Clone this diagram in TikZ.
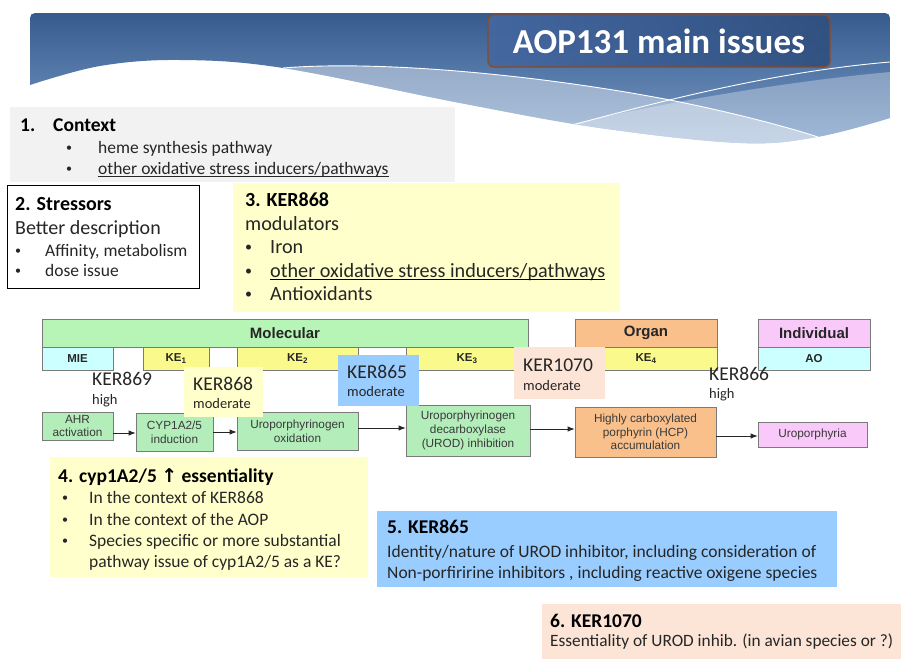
\documentclass[tikz,border=0pt]{standalone}
\usepackage{fontspec}
\setmainfont{Carlito}
\newfontfamily\arialf{Liberation Sans}
\newfontfamily\symf{DejaVu Sans}
\usetikzlibrary{arrows.meta}

\newcommand{\fsz}[2]{\fontsize{#1}{#2}\selectfont}
% small list bullet, lifted to sit at mid x-height of the surrounding text
\newcommand{\bul}[2]{\raisebox{#2}{\fsz{#1}{#1}\textbullet}}

\definecolor{bannertop}{HTML}{365B8D}
\definecolor{bannerbot}{HTML}{7A9CC8}
\definecolor{titlebrd}{HTML}{8C4A25}
\definecolor{titleL}{HTML}{4467A0}
\definecolor{titleR}{HTML}{30507F}
\definecolor{ctxgray}{HTML}{F2F2F2}
\definecolor{paleyellow}{HTML}{FFFFCC}
\definecolor{paleblue}{HTML}{99CCFF}
\definecolor{peach}{HTML}{FCE4D6}
\definecolor{molgreen}{HTML}{B6F5B6}
\definecolor{boxgreen}{HTML}{B3EDBA}
\definecolor{organ}{HTML}{F9C08C}
\definecolor{indiv}{HTML}{F9C9F9}
\definecolor{cyanbox}{HTML}{CCFFFF}
\definecolor{keyellow}{HTML}{FAFA8C}
\definecolor{dgray}{HTML}{7A7A7A}
\definecolor{dtext}{HTML}{3A3A3A}
\definecolor{bodytext}{HTML}{262626}

\begin{document}
\begin{tikzpicture}[x=1pt,y=-1pt,
  tx/.style={anchor=base west, inner sep=0pt, text=bodytext},
  panel/.style={anchor=north west, inner sep=0pt, draw=none},
  dbox/.style={draw=dgray, line width=0.8pt, inner sep=0pt, align=center,
    text=dtext, font=\arialf\fsz{11.8}{13.6}},
  dhead/.style={dbox, font=\arialf\bfseries\fsz{15}{16}, text=black!85},
  dsub/.style={dbox, font=\arialf\bfseries\fsz{11.5}{13}, text=black!85},
  kerbox/.style={inner sep=0pt, draw=none},
  arr/.style={-{Latex[length=7pt,width=5.5pt]}, line width=0.8pt, draw=black!85},
  hd/.style={tx, text=black, font=\bfseries\fsz{19.5}{23}},
  uline/.style={draw=bodytext, line width=0.9pt},
]
\useasboundingbox (0,0) rectangle (901,659);

% ---------- header banner ----------
\begin{scope}
  \clip (30,85) -- (30,24) .. controls (30,13) .. (41,13) -- (879,13)
    .. controls (890,13) .. (890,24) -- (890,118)
    -- plot[smooth,tension=0.6] coordinates {(890,118) (817,137) (740,143)
       (600,128) (460,103) (283,68) (180,60) (100,66) (30,85)} -- cycle;
  \shade[top color=bannertop, bottom color=bannerbot] (30,13) rectangle (890,145);
  \fill[white, opacity=.4] (283,68) .. controls (380,60) and (540,75) .. (670,100)
    .. controls (740,114) and (790,128) .. (818,137) -- (818,170) -- (250,170) -- (250,68) -- cycle;
  \fill[white, opacity=.3] (555,128) .. controls (650,105) and (780,82) .. (890,72)
    -- (890,170) -- (555,170) -- cycle;
  \draw[white, line width=0.9pt] (283,68) .. controls (380,60) and (540,75) .. (670,100)
    .. controls (740,114) and (790,128) .. (818,137);
  \draw[white, line width=0.9pt] (565,127) .. controls (650,104) and (770,72) .. (890,62);
\end{scope}

% title plate
\node[text=black, opacity=.45, font=\bfseries\fsz{35}{40}] at (660.5,42.5) {AOP131 main issues};
\node[draw=titlebrd, line width=1.4pt, rounded corners=6pt, left color=titleL, right color=titleR,
  minimum width=342pt, minimum height=52pt, inner sep=0pt, fill opacity=0.92]
  (title) at (659,41) {};
\node[text=white, font=\bfseries\fsz{35}{40}] (titletext) at (title.center) {AOP131 main issues};

% ---------- 1. Context ----------
\node[panel, fill=ctxgray, minimum width=445pt, minimum height=75pt] (ctx) at (10,107) {};
\node[hd] at (20,131) {1.};
\node[hd] at (53,131) {Context};
\node[tx, font=\fsz{17.5}{21}] at (66,153) {\bul{12}{1.3pt}};
\node[tx, font=\fsz{17.5}{21}] at (98,153) {heme synthesis pathway};
\node[tx, font=\fsz{17.5}{21}] at (66,174) {\bul{12}{1.3pt}};
\node[tx, font=\fsz{17.5}{21}] (ctxu) at (98,174) {other oxidative stress inducers/pathways};
\draw[uline] ([yshift=-2.5pt]ctxu.base west) -- ([yshift=-2.5pt]ctxu.base east);

% ---------- 2. Stressors ----------
\node[panel, fill=white, draw=black, line width=1pt, minimum width=192pt, minimum height=103pt] (str) at (7,185) {};
\node[hd, font=\bfseries\fsz{20}{24}] at (15,210) {2. Stressors};
\node[tx, font=\fsz{20}{24}] at (15,234) {Better description};
\node[tx, font=\fsz{17.5}{21}] at (15,256) {\bul{12}{1.3pt}};
\node[tx, font=\fsz{17.5}{21}] at (45,256) {Affinity, metabolism};
\node[tx, font=\fsz{17.5}{21}] at (15,276) {\bul{12}{1.3pt}};
\node[tx, font=\fsz{17.5}{21}] at (45,276) {dose issue};

% ---------- 3. KER868 ----------
\node[panel, fill=paleyellow, minimum width=387pt, minimum height=129pt] (k3) at (233,183) {};
\node[hd, font=\bfseries\fsz{20}{24}] at (245,206) {3. KER868};
\node[tx, font=\fsz{20.2}{24}] at (245,230) {modulators};
\node[tx, font=\fsz{20.2}{24}] at (245,253) {\bul{14}{1.4pt}};
\node[tx, font=\fsz{20.2}{24}] at (270,253) {Iron};
\node[tx, font=\fsz{20.2}{24}] at (245,277) {\bul{14}{1.4pt}};
\node[tx, font=\fsz{20.2}{24}] (k3u) at (270,277) {other oxidative stress inducers/pathways};
\draw[uline, draw=black] ([yshift=-2.8pt]k3u.base west) -- ([yshift=-2.8pt]k3u.base east);
\node[tx, font=\fsz{20.2}{24}] at (245,300) {\bul{14}{1.4pt}};
\node[tx, font=\fsz{20.2}{24}] at (270,300) {Antioxidants};

% ---------- AOP diagram ----------
\node[dhead, fill=molgreen, minimum width=486pt, minimum height=28pt] (mol) at (285,333) {Molecular};
\node[dsub, fill=cyanbox, minimum width=71pt, minimum height=23pt] (mie) at (77.5,358.5) {MIE};
\node[dsub, fill=keyellow, minimum width=66pt, minimum height=23pt] (ke1) at (176,358.5) {KE\textsubscript{1}};
\node[dsub, fill=keyellow, minimum width=121pt, minimum height=23pt] (ke2) at (297.5,358.5) {KE\textsubscript{2}};
\node[dsub, fill=keyellow, minimum width=122pt, minimum height=23pt] (ke3) at (467,358.5) {KE\textsubscript{3}};
\node[dhead, fill=organ, minimum width=142pt, minimum height=28pt] (org) at (646,333) {Organ};
\node[dsub, fill=keyellow, minimum width=142pt, minimum height=23pt] (ke4) at (646,358.5) {KE\textsubscript{4}};
\node[dhead, fill=indiv, minimum width=112pt, minimum height=28pt] (ind) at (814,333) {Individual};
\node[dsub, fill=cyanbox, minimum width=112pt, minimum height=23pt] (ao) at (814,358.5) {AO};

\node[dbox, fill=boxgreen, minimum width=71pt, minimum height=28pt] (ahr) at (77.5,426) {AHR\\activation};
\node[dbox, fill=boxgreen, minimum width=77pt, minimum height=38pt] (cyp) at (174.5,432) {CYP1A2/5\\induction};
\node[dbox, fill=boxgreen, minimum width=121pt, minimum height=38pt] (uox) at (297.5,431) {Uroporphyrinogen\\oxidation};
\node[dbox, fill=boxgreen, minimum width=124pt, minimum height=51pt] (urod) at (468,430.5) {Uroporphyrinogen\\decarboxylase\\(UROD) inhibition};
\node[dbox, fill=organ, minimum width=141pt, minimum height=50pt] (hcp) at (645.5,432) {Highly carboxylated\\porphyrin (HCP)\\accumulation};
\node[dbox, fill=indiv, minimum width=109pt, minimum height=25pt] (urop) at (812.5,434.5) {Uroporphyria};

\draw[arr] (ahr.east |- 0,433) -- (cyp.west |- 0,433);
\draw[arr] (cyp.east |- 0,432) -- (uox.west |- 0,432);
\draw[arr] (uox.east |- 0,428) -- (urod.west |- 0,428);
\draw[arr] (urod.east |- 0,429) -- (hcp.west |- 0,429);
\draw[arr] (hcp.east |- 0,436) -- (urop.west |- 0,436);

% KER evidence labels
\node[kerbox, fill=paleyellow, minimum width=79pt, minimum height=50pt] (l868) at (223.5,392) {};
\node[kerbox, fill=paleblue, minimum width=81pt, minimum height=51pt] (l865) at (378.5,380.5) {};
\node[kerbox, fill=peach, minimum width=91pt, minimum height=52pt] (l1070) at (559.5,373) {};

\node[tx, font=\fsz{19.5}{23}] at (92,385) {KER869};
\node[tx, font=\fsz{14.5}{17}] at (92,404) {high};
\node[tx, font=\fsz{19.5}{23}] at (193,390) {KER868};
\node[tx, font=\fsz{14.5}{17}] at (193,408) {moderate};
\node[tx, font=\fsz{19.5}{23}] at (347,378) {KER865};
\node[tx, font=\fsz{14.5}{17}] at (347,396) {moderate};
\node[tx, font=\fsz{19.5}{23}] at (523,371) {KER1070};
\node[tx, font=\fsz{14.5}{17}] at (523,390) {moderate};
\node[tx, font=\fsz{19.5}{23}] at (709,380) {KER866};
\node[tx, font=\fsz{14.5}{17}] at (709,398) {high};

% ---------- 4. cyp1A2/5 essentiality ----------
\node[panel, fill=paleyellow, minimum width=318pt, minimum height=120pt] (c4) at (50,457) {};
\node[hd, font=\bfseries\fsz{19.5}{23}] at (58,482) {4. cyp1A2/5 {\symf\bfseries\fsz{19}{22}↑} essentiality};
\node[tx, font=\fsz{17.5}{20}] at (62,503) {\bul{12}{1.3pt}};
\node[tx, font=\fsz{17.5}{20}] at (89,503) {In the context of KER868};
\node[tx, font=\fsz{17.5}{20}] at (62,525) {\bul{12}{1.3pt}};
\node[tx, font=\fsz{17.5}{20}] at (89,525) {In the context of the AOP};
\node[tx, font=\fsz{17.5}{20}] at (62,546) {\bul{12}{1.3pt}};
\node[tx, font=\fsz{17.5}{20}] at (89,546) {Species specific or more substantial};
\node[tx, font=\fsz{17.5}{20}] at (89,567) {pathway issue of cyp1A2/5 as a KE?};

% ---------- 5. KER865 ----------
\node[panel, fill=paleblue, minimum width=460pt, minimum height=76pt] (k5) at (377,511) {};
\node[hd, font=\bfseries\fsz{19.5}{23}] at (387,533) {5. KER865};
\node[tx, font=\fsz{17.5}{20}] at (387,557) {Identity/nature of UROD inhibitor, including consideration of};
\node[tx, font=\fsz{17.5}{20}] at (387,578) {Non-porfiririne inhibitors , including reactive oxigene species};

% ---------- 6. KER1070 ----------
\node[panel, fill=peach, minimum width=359pt, minimum height=55pt] (k6) at (542,604) {};
\node[hd, font=\bfseries\fsz{19.5}{23}] at (550,627) {6. KER1070};
\node[tx, font=\fsz{17.3}{20}] at (550,646) {Essentiality of UROD inhib. (in avian species or ?)};
\end{tikzpicture}
\end{document}
